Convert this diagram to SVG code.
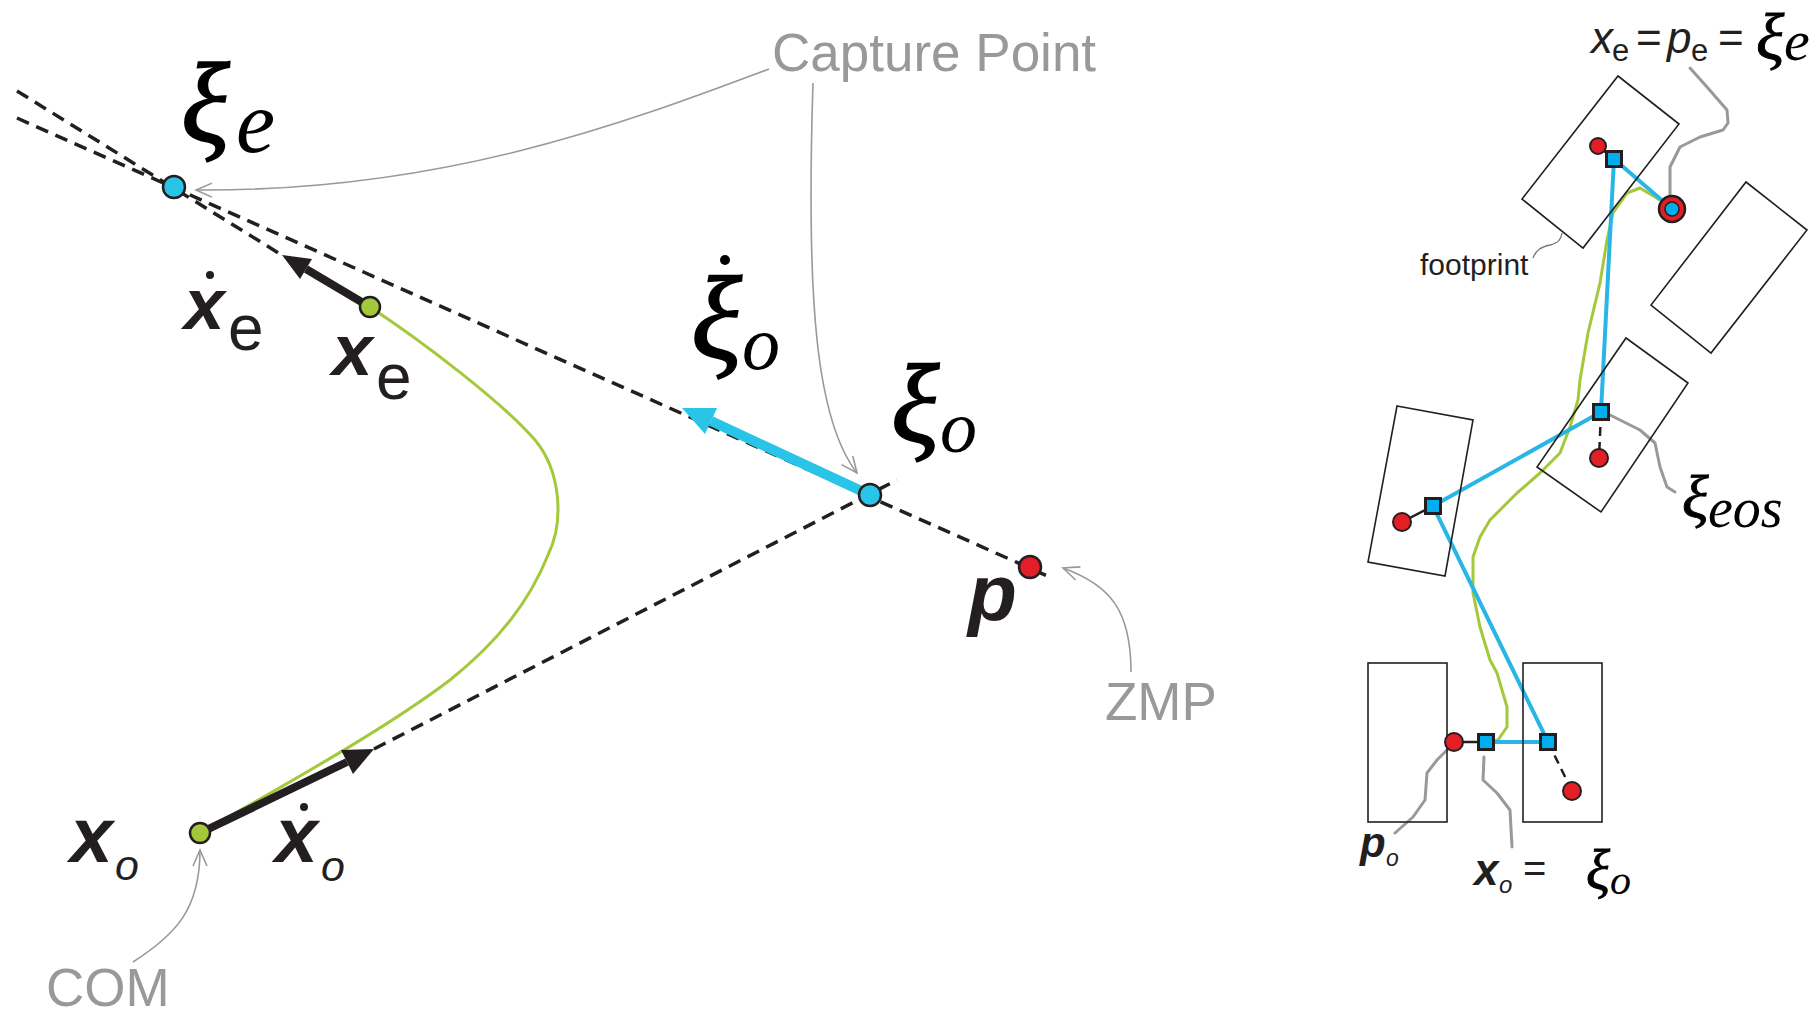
<svg xmlns="http://www.w3.org/2000/svg" width="1819" height="1015" viewBox="0 0 1819 1015">
<defs>
<style>
.dash{fill:none;stroke:#231f20;stroke-width:3.5;stroke-dasharray:13 8}
.call{fill:none;stroke:#999;stroke-width:1.6}
.callr{fill:none;stroke:#999;stroke-width:3;stroke-linecap:round;stroke-linejoin:round}
.gray{font-family:"Liberation Sans",Arial,sans-serif;fill:#999}
.sans{font-family:"Liberation Sans",Arial,sans-serif;fill:#231f20}
.bi{font-family:"Liberation Sans",Arial,sans-serif;font-weight:bold;font-style:italic;fill:#231f20}
.gr{font-family:"Liberation Serif","Times New Roman",serif;font-style:italic;fill:#000}
.xi{font-family:"Liberation Serif","Times New Roman",serif;font-style:italic;fill:#000;stroke:#000;stroke-width:1.6}
.xis{font-family:"Liberation Serif","Times New Roman",serif;font-style:italic;fill:#000;stroke:#000;stroke-width:0.9}
.pt{stroke:#231f20;stroke-width:2.5}
.cy{fill:#29c4e8}.gn{fill:#a3c93a}.rd{fill:#e31e2a}
.foot{fill:none;stroke:#231f20;stroke-width:1.6}
.bl{fill:none;stroke:#29b6e6;stroke-width:4;stroke-linejoin:round}
.grn{fill:none;stroke:#a3c93a;stroke-width:3;stroke-linejoin:round}
.sq{fill:#00aeef;stroke:#231f20;stroke-width:3}
.rc{fill:#e31e24;stroke:#231f20;stroke-width:2}
.blk{fill:none;stroke:#231f20;stroke-width:2.5}
</style>
<marker id="open" viewBox="0 0 20 20" refX="18" refY="10" markerWidth="20" markerHeight="20" markerUnits="userSpaceOnUse" orient="auto">
<path d="M2,3 L18,10 L2,17" fill="none" stroke="#999" stroke-width="1.6"/>
</marker>
</defs>
<rect width="1819" height="1015" fill="#fff"/>

<g id="connectors">
<path class="dash" d="M17,91 L285,257"/>
<path class="dash" d="M17,118 L1052,578"/>
<path class="dash" d="M374,749 L897,480"/>
<path fill="none" stroke="#a3c93a" stroke-width="3" d="M370,307 C420,340 500,400 535,440 C560,470 565,520 548,555 C530,600 500,640 450,680 C400,718 330,760 200,833"/>
<line x1="370" y1="307" x2="306" y2="269" stroke="#231f20" stroke-width="8"/>
<polygon points="282,255 312,259 300,279" fill="#231f20"/>
<line x1="870" y1="495" x2="711" y2="421" stroke="#29c4e8" stroke-width="10"/>
<polygon points="682,408 717,408 705,434" fill="#29c4e8"/>
<line x1="200" y1="833" x2="347" y2="762" stroke="#231f20" stroke-width="8"/>
<polygon points="374,749 353,774 341,750" fill="#231f20"/>
<path class="call" marker-end="url(#open)" d="M769,69 C620,125 440,192 196,190"/>
<path class="call" marker-end="url(#open)" d="M813,83 C806,300 816,420 857,473"/>
<path class="call" marker-end="url(#open)" d="M1131,672 C1131,610 1110,585 1063,568"/>
<path class="call" marker-end="url(#open)" d="M133,962 C175,935 200,910 200,850"/>

<polyline class="grn" points="1660,200 1640,188 1627,193 1613,213 1607,240 1600,283 1588,333 1580,380 1578,400 1570,427 1560,453 1540,473 1517,493 1490,520 1480,537 1473,557 1473,593 1480,627 1490,660 1497,673 1507,707 1507,727 1498,740 1488,742"/>
<polyline class="bl" points="1672,209 1614,159 1601,412 1433,506 1548,742 1486,742"/>
<line class="blk" x1="1598" y1="146" x2="1614" y2="159"/>
<line class="blk" x1="1402" y1="522" x2="1433" y2="506"/>
<line class="blk" x1="1454" y1="742" x2="1486" y2="742"/>
<line class="blk" stroke-dasharray="9 6" x1="1601" y1="412" x2="1599" y2="458"/>
<line class="blk" stroke-dasharray="9 6" x1="1548" y1="742" x2="1572" y2="791"/>
<polyline class="callr" points="1690,68 1707,87 1727,110 1728,123 1723,130 1700,137 1680,147 1670,167 1670,197"/>
<polyline class="callr" points="1610,415 1640,430 1655,443 1660,467 1667,487 1675,492"/>
<polyline class="callr" points="1447,750 1437,760 1427,773 1425,800 1413,817 1395,833"/>
<polyline class="callr" points="1484,757 1483,780 1497,793 1510,810 1512,847"/>
<path fill="none" stroke="#777" stroke-width="1.3" d="M1533,258 C1536,250 1541,247 1550,245 C1558,243 1561,240 1562,233"/>
</g>

<g id="node-xi-e">
<circle class="pt cy" cx="174" cy="187" r="11"/>
<text class="xi" x="181" y="142" font-size="114">ξ</text>
<text class="gr" x="236" y="152" font-size="88">e</text>
</g>
<g id="node-xdot-e">
<circle cx="210" cy="275" r="4" fill="#231f20"/>
<text class="bi" x="184" y="329" font-size="73">x</text>
<text class="sans" x="228" y="350" font-size="64">e</text>
</g>
<g id="node-x-e">
<circle class="pt gn" cx="370" cy="307" r="10"/>
<text class="bi" x="332" y="375" font-size="73">x</text>
<text class="sans" x="376" y="399" font-size="64">e</text>
</g>
<g id="node-xidot-o">
<circle cx="725" cy="260" r="5" fill="#000"/>
<text class="xi" x="691" y="358" font-size="119">ξ</text>
<text class="gr" x="742" y="369" font-size="76">o</text>
</g>
<g id="node-xi-o">
<circle class="pt cy" cx="870" cy="495" r="11"/>
<text class="xi" x="891" y="442" font-size="113">ξ</text>
<text class="gr" x="940" y="452" font-size="74">o</text>
</g>
<g id="node-p">
<circle class="pt rd" cx="1030" cy="567" r="11"/>
<text class="bi" x="968" y="620" font-size="80">p</text>
</g>
<g id="node-x-o">
<circle class="pt gn" cx="200" cy="833" r="10"/>
<text class="bi" x="70" y="862" font-size="77">x</text>
<text class="sans" font-style="italic" x="115" y="880" font-size="43">o</text>
</g>
<g id="node-xdot-o">
<circle cx="304" cy="807" r="4" fill="#231f20"/>
<text class="bi" x="275" y="862" font-size="77">x</text>
<text class="sans" font-style="italic" x="321" y="881" font-size="43">o</text>
</g>
<g id="label-capture-point"><text class="gray" x="772" y="71" font-size="53">Capture Point</text></g>
<g id="label-zmp"><text class="gray" x="1105" y="720" font-size="53">ZMP</text></g>
<g id="label-com"><text class="gray" x="46" y="1006" font-size="53">COM</text></g>

<g id="footprints">
<polygon class="foot" points="1618,76 1679,124 1583,248 1522,199"/>
<polygon class="foot" points="1746,182 1807,230 1711,353 1651,305"/>
<polygon class="foot" points="1626,338 1688,383 1601,512 1537,467"/>
<polygon class="foot" points="1397,406 1473,420 1445,576 1368,562"/>
<rect class="foot" x="1368" y="663" width="79" height="159"/>
<rect class="foot" x="1523" y="663" width="79" height="159"/>
</g>
<g id="node-end">
<circle class="rc" cx="1598" cy="146" r="8"/>
<rect class="sq" x="1606.5" y="151.5" width="15" height="15"/>
<circle cx="1672" cy="209" r="13" fill="#e31e24" stroke="#231f20" stroke-width="2.5"/>
<circle cx="1672" cy="209" r="7" fill="#00aeef" stroke="#231f20" stroke-width="1.5"/>
</g>
<g id="node-eos">
<rect class="sq" x="1593.5" y="404.5" width="15" height="15"/>
<circle class="rc" cx="1599" cy="458" r="9"/>
</g>
<g id="node-mid">
<rect class="sq" x="1425.5" y="498.5" width="15" height="15"/>
<circle class="rc" cx="1402" cy="522" r="9"/>
</g>
<g id="node-start">
<circle class="rc" cx="1454" cy="742" r="9"/>
<rect class="sq" x="1478.5" y="734.5" width="15" height="15"/>
<rect class="sq" x="1540.5" y="734.5" width="15" height="15"/>
<circle class="rc" cx="1572" cy="791" r="9"/>
</g>
<g id="label-xe-pe-xie">
<text class="sans" font-style="italic" x="1591" y="53" font-size="44">x</text>
<text class="sans" x="1612" y="61" font-size="31">e</text>
<text class="sans" x="1636" y="53" font-size="44">=</text>
<text class="sans" font-style="italic" x="1667" y="53" font-size="44">p</text>
<text class="sans" x="1691" y="61" font-size="31">e</text>
<text class="sans" x="1718" y="53" font-size="44">=</text>
<text class="xis" x="1756" y="59" font-size="66">ξ</text>
<text class="gr" x="1784" y="60" font-size="58">e</text>
</g>
<g id="label-footprint"><text class="sans" x="1420" y="275" font-size="30">footprint</text></g>
<g id="label-xi-eos">
<text class="xis" x="1682" y="518" font-size="62">ξ</text>
<text class="gr" x="1708" y="527" font-size="56">eos</text>
</g>
<g id="label-po">
<text class="bi" x="1360" y="857" font-size="42">p</text>
<text class="sans" font-style="italic" x="1386" y="866" font-size="23">o</text>
</g>
<g id="label-xo-xio">
<text class="bi" x="1474" y="885" font-size="44">x</text>
<text class="sans" font-style="italic" x="1499" y="893" font-size="24">o</text>
<text class="sans" x="1523" y="882" font-size="40">=</text>
<text class="xis" x="1586" y="889" font-size="56">ξ</text>
<text class="gr" x="1610" y="894" font-size="42">o</text>
</g>
</svg>
